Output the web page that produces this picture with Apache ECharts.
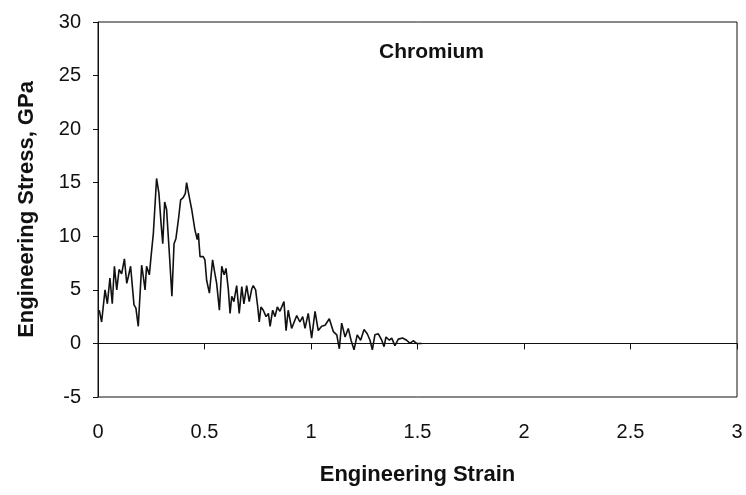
<!DOCTYPE html>
<html>
<head>
<meta charset="utf-8">
<script src="https://cdn.jsdelivr.net/npm/echarts@6/dist/echarts.min.js"></script>
<style>
  html, body { margin: 0; padding: 0; background: #fff; }
  #chart { width: 746px; height: 495px; }
</style>
</head>
<body>
<div id="chart"></div>
<script>
// strain / stress
var strain = [0.006, 0.017, 0.033, 0.044, 0.056, 0.067, 0.077, 0.088, 0.099, 0.111,
  0.124, 0.135, 0.142, 0.153, 0.169, 0.178, 0.189, 0.205, 0.213, 0.221,
  0.228, 0.241, 0.249, 0.260, 0.275, 0.286, 0.296, 0.304, 0.313, 0.322,
  0.335, 0.347, 0.357, 0.366, 0.379, 0.388, 0.400, 0.410, 0.416, 0.429,
  0.440, 0.455, 0.466, 0.471, 0.479, 0.494, 0.502, 0.510, 0.523, 0.538,
  0.549, 0.557, 0.570, 0.581, 0.592, 0.601, 0.612, 0.620, 0.628, 0.638,
  0.651, 0.663, 0.675, 0.685, 0.698, 0.710, 0.722, 0.729, 0.740, 0.750,
  0.757, 0.765, 0.776, 0.789, 0.800, 0.808, 0.820, 0.831, 0.842, 0.854,
  0.873, 0.883, 0.893, 0.909, 0.933, 0.948, 0.961, 0.972, 0.987, 1.003,
  1.019, 1.034, 1.050, 1.066, 1.086, 1.105, 1.121, 1.133, 1.144, 1.160,
  1.175, 1.188, 1.202, 1.217, 1.233, 1.249, 1.264, 1.277, 1.288, 1.300,
  1.316, 1.332, 1.343, 1.352, 1.368, 1.379, 1.394, 1.410, 1.430, 1.449,
  1.465, 1.480, 1.496, 1.520];
var stress = [3.1, 2.0, 5.0, 3.7, 6.1, 3.7, 7.2, 5.0, 6.9, 6.5,
  7.9, 5.6, 6.2, 7.2, 3.6, 3.3, 1.6, 7.3, 6.2, 5.0,
  7.2, 6.4, 8.1, 10.3, 15.4, 14.0, 11.2, 9.3, 13.2, 12.5,
  8.4, 4.4, 9.3, 9.8, 11.8, 13.4, 13.6, 14.0, 15.0, 13.6,
  12.5, 10.6, 9.7, 10.3, 8.1, 8.1, 7.8, 5.9, 4.7, 7.8,
  6.5, 5.6, 3.1, 7.2, 6.4, 7.0, 5.0, 2.8, 4.4, 3.9,
  5.4, 2.8, 5.3, 3.7, 5.4, 3.9, 5.1, 5.4, 5.0, 3.4,
  2.0, 3.4, 3.1, 2.5, 2.8, 1.6, 3.1, 2.5, 3.4, 3.0,
  3.9, 1.2, 3.1, 1.4, 2.6, 2.0, 2.5, 1.4, 2.8, 0.5,
  3.0, 1.2, 1.6, 1.7, 2.3, 1.1, 0.8, -0.5, 1.9, 0.6,
  1.4, 0.3, -0.6, 0.8, 0.3, 1.3, 0.9, 0.3, -0.6, 0.8,
  0.9, 0.3, -0.3, 0.6, 0.3, 0.5, -0.2, 0.4, 0.5, 0.3,
  0.0, 0.25, 0.0, 0.0];

var font = '"Liberation Sans", Arial, sans-serif';

var chart = echarts.init(document.getElementById('chart'));
chart.setOption({
  animation: false,
  title: {
    text: 'Chromium',
    left: 374,
    top: 37,
    textStyle: { fontFamily: font, fontSize: 21, fontWeight: 'bold', color: '#111' }
  },
  grid: {
    left: 98,
    right: 9,
    top: 22,
    bottom: 98,
    show: true,
    borderColor: '#111',
    borderWidth: 1
  },
  xAxis: [
    {
      type: 'value',
      position: 'bottom',
      min: 0,
      max: 3,
      interval: 0.5,
      axisLine: { onZero: true, lineStyle: { color: '#111', width: 1.2 } },
      axisTick: { show: true, length: 6, lineStyle: { color: '#111' } },
      axisLabel: { show: false },
      splitLine: { show: false }
    },
    {
      type: 'value',
      position: 'bottom',
      min: 0,
      max: 3,
      interval: 0.5,
      axisLine: { show: false, onZero: false },
      axisTick: { show: false },
      axisLabel: { margin: 25, fontFamily: font, fontSize: 20, color: '#111' },
      splitLine: { show: false },
      name: 'Engineering Strain',
      nameLocation: 'middle',
      nameGap: 67,
      nameTextStyle: { fontFamily: font, fontSize: 22, fontWeight: 'bold', color: '#111' }
    }
  ],
  yAxis: {
    type: 'value',
    min: -5,
    max: 30,
    interval: 5,
    axisLine: { show: true, lineStyle: { color: '#111' } },
    axisTick: { show: true, length: 5, lineStyle: { color: '#111' } },
    axisLabel: { margin: 17, fontFamily: font, fontSize: 20, color: '#111' },
    splitLine: { show: false },
    name: 'Engineering Stress, GPa',
    nameLocation: 'middle',
    nameGap: 60,
    nameTextStyle: { fontFamily: font, fontSize: 22, fontWeight: 'bold', color: '#111' }
  },
  series: [
    {
      type: 'line',
      xAxisIndex: 0,
      data: strain.map(function (s, i) { return [s, stress[i]]; }),
      showSymbol: false,
      lineStyle: { color: '#111', width: 1.6 }
    }
  ]
});
</script>
</body>
</html>
